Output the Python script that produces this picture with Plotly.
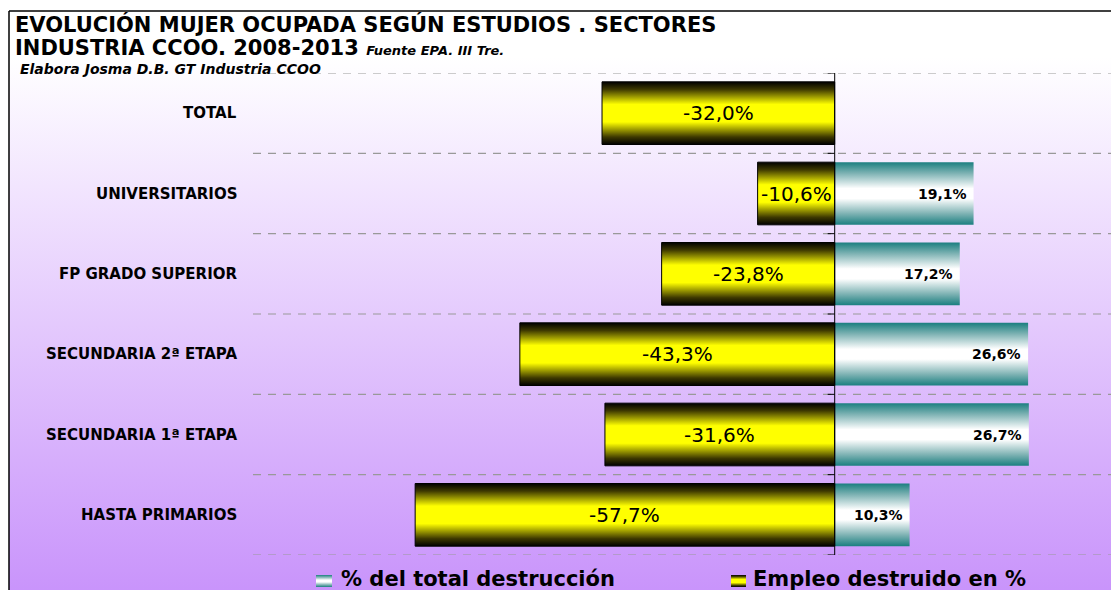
import plotly.graph_objects as go

# ---- data -------------------------------------------------------------
categorias = [
    "TOTAL",
    "UNIVERSITARIOS",
    "FP GRADO SUPERIOR",
    "SECUNDARIA 2ª ETAPA",
    "SECUNDARIA 1ª ETAPA",
    "HASTA PRIMARIOS",
]
empleo_destruido = [-32.0, -10.6, -23.8, -43.3, -31.6, -57.7]
pct_total_destruccion = [None, 19.1, 17.2, 26.6, 26.7, 10.3]

serie_total = "% del total destrucción"
serie_empleo = "Empleo destruido en %"

titulo_1 = "EVOLUCIÓN MUJER OCUPADA SEGÚN ESTUDIOS . SECTORES"
titulo_2 = "INDUSTRIA CCOO. 2008-2013"
fuente = "Fuente EPA. III Tre."
autor = "Elabora Josma D.B. GT Industria CCOO"

# ---- styling -----------------------------------------------------------
W, H = 1111, 590
FONT = "DejaVu Sans"
HALF = 0.39  # half bar thickness, in category units

YELLOW_SCALE = [
    [0.0, "#000000"], [0.12, "#3d3800"], [0.36, "#ffff00"],
    [0.64, "#ffff00"], [0.88, "#3d3800"], [1.0, "#000000"],
]
TEAL_SCALE = [
    [0.0, "#1b7f80"], [0.18, "#7fb3b4"], [0.42, "#ffffff"],
    [0.58, "#ffffff"], [0.82, "#7fb3b4"], [1.0, "#1b7f80"],
]
BG_SCALE = [[0.0, "#ffffff"], [0.08, "#ffffff"], [1.0, "#c994fb"]]


def fmt(v):
    return f"{v:.1f}%".replace(".", ",")


fig = go.Figure()

# background panel (pixel-coordinate axes x / y)
fig.add_trace(go.Scatter(
    x=[9, W, W, 9, 9], y=[11, 11, H, H, 11],
    mode="none", fill="toself",
    fillgradient=dict(type="vertical", colorscale=BG_SCALE, start=11, stop=H),
    xaxis="x", yaxis="y", hoverinfo="skip", showlegend=False,
))


def bar(value, i, scale, outline):
    return go.Scatter(
        x=[0, value, value, 0, 0],
        y=[i - HALF, i - HALF, i + HALF, i + HALF, i - HALF],
        mode="lines", fill="toself",
        line=dict(color="#000000" if outline else "rgba(0,0,0,0)", width=1 if outline else 0),
        fillgradient=dict(type="vertical", colorscale=scale,
                          start=i - HALF, stop=i + HALF),
        xaxis="x2", yaxis="y2", hoverinfo="skip", showlegend=False,
    )


for i, v in enumerate(pct_total_destruccion):
    if v is not None:
        fig.add_trace(bar(v, i, TEAL_SCALE, False))
for i, v in enumerate(empleo_destruido):
    fig.add_trace(bar(v, i, YELLOW_SCALE, True))


# legend swatches
def swatch(x0, x1, y0, y1, scale):
    return go.Scatter(
        x=[x0, x1, x1, x0, x0], y=[y0, y0, y1, y1, y0],
        mode="lines", fill="toself", line=dict(width=0, color="rgba(0,0,0,0)"),
        fillgradient=dict(type="vertical", colorscale=scale, start=y0, stop=y1),
        xaxis="x", yaxis="y", hoverinfo="skip", showlegend=False,
    )


fig.add_trace(swatch(316, 332, 575, 587, TEAL_SCALE))
fig.add_trace(swatch(731, 746, 575, 587, YELLOW_SCALE))

annotations = []

# titles
annotations.append(dict(
    x=13, y=24, xref="x", yref="y", xanchor="left", yanchor="middle",
    text=f"<b>{titulo_1}</b>", showarrow=False,
    font=dict(family=FONT, size=21, color="#000000"),
))
annotations.append(dict(
    x=13, y=48, xref="x", yref="y", xanchor="left", yanchor="middle",
    text=f"<b>{titulo_2} <i><span style='font-size:13px'>{fuente}</span></i></b>",
    showarrow=False, font=dict(family=FONT, size=21, color="#000000"),
))
annotations.append(dict(
    x=18, y=69, xref="x", yref="y", xanchor="left", yanchor="middle",
    text=f"<b><i>{autor}</i></b>", showarrow=False,
    font=dict(family=FONT, size=14, color="#000000"),
))

# category labels
for i, c in enumerate(categorias):
    annotations.append(dict(
        x=239, y=i, xref="x", yref="y2", xanchor="right", yanchor="middle",
        text=f"<b>{c}</b>", showarrow=False,
        font=dict(family=FONT, size=15, color="#000000"),
    ))

# value labels
for i, v in enumerate(empleo_destruido):
    annotations.append(dict(
        x=v / 2, y=i, xref="x2", yref="y2", xanchor="center", yanchor="middle",
        text=fmt(v), showarrow=False,
        font=dict(family=FONT, size=20, color="#000000"),
    ))
for i, v in enumerate(pct_total_destruccion):
    if v is not None:
        annotations.append(dict(
            x=v, y=i, xref="x2", yref="y2", xanchor="right", yanchor="middle",
            xshift=-5, text=f"<b>{fmt(v)}</b>", showarrow=False,
            font=dict(family=FONT, size=14, color="#000000"),
        ))

# legend texts
annotations.append(dict(
    x=339, y=579, xref="x", yref="y", xanchor="left", yanchor="middle",
    text=f"<b>{serie_total}</b>", showarrow=False,
    font=dict(family=FONT, size=21, color="#000000"),
))
annotations.append(dict(
    x=751, y=579, xref="x", yref="y", xanchor="left", yanchor="middle",
    text=f"<b>{serie_empleo}</b>", showarrow=False,
    font=dict(family=FONT, size=21, color="#000000"),
))

shapes = []
n = len(categorias)
# dashed separators between categories
for k in range(n + 1):
    shapes.append(dict(
        type="line", xref="x2 domain", yref="y2", x0=0, x1=1,
        y0=k - 0.5, y1=k - 0.5, layer="above",
        line=dict(color="#999999", width=1.2, dash="8px,7px"),
    ))
    shapes.append(dict(
        type="line", xref="x2", yref="y2", xsizemode="pixel", xanchor=0,
        x0=-7, x1=0, y0=k - 0.5, y1=k - 0.5, layer="above",
        line=dict(color="#000000", width=1),
    ))
# value axis at zero
shapes.append(dict(
    type="line", xref="x2", yref="y2", x0=0, x1=0, y0=-0.5, y1=n - 0.5,
    layer="above", line=dict(color="#000000", width=1),
))
# chart frame
shapes.append(dict(type="line", xref="x", yref="y", x0=9, x1=9, y0=11, y1=H,
                   layer="above", line=dict(color="#000000", width=1.5)))
shapes.append(dict(type="line", xref="x", yref="y", x0=9, x1=W, y0=11, y1=11,
                   layer="above", line=dict(color="#000000", width=1.5)))

fig.update_layout(
    width=W, height=H,
    margin=dict(l=0, r=0, t=0, b=0),
    paper_bgcolor="#ffffff",
    plot_bgcolor="rgba(0,0,0,0)",
    showlegend=False,
    xaxis=dict(domain=[0, 1], range=[0, W], visible=False, fixedrange=True),
    yaxis=dict(domain=[0, 1], range=[H, 0], visible=False, fixedrange=True),
    xaxis2=dict(domain=[253 / W, 1], range=[-80, 38], visible=False,
                anchor="y2", fixedrange=True),
    yaxis2=dict(domain=[1 - 555 / H, 1 - 73 / H], range=[n - 0.5, -0.5],
                visible=False, anchor="x2", fixedrange=True),
    annotations=annotations,
    shapes=shapes,
)

fig.write_html("out.html", config={"displayModeBar": False})
